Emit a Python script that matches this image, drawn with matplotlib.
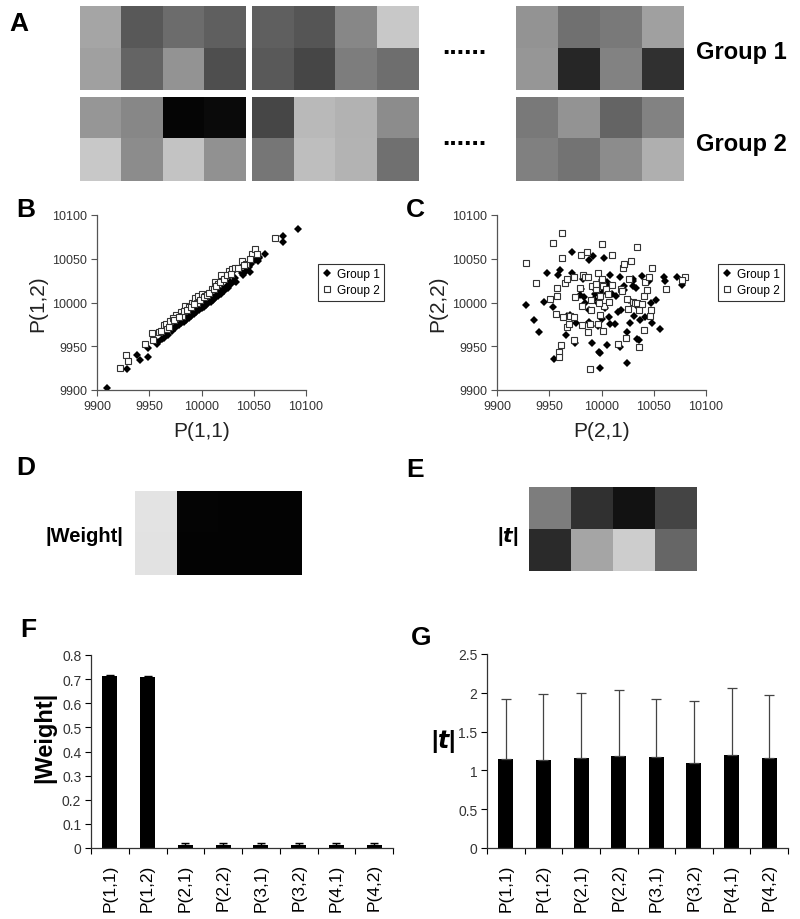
import matplotlib
matplotlib.use('Agg')
import matplotlib.pyplot as plt
from matplotlib.lines import Line2D
import numpy as np

plt.rcParams['font.family'] = ['Liberation Sans', 'DejaVu Sans']

# ---------------- data ----------------
# Panel A: gray levels (0-255) of example 2x4 matrices
a_group1_blocks = [
    [[165, 88, 108, 95], [160, 100, 148, 78]],
    [[95, 85, 135, 200], [90, 70, 125, 110]],
    [[148, 112, 122, 160], [150, 38, 130, 48]],
]
a_group2_blocks = [
    [[150, 135, 5, 10], [200, 140, 195, 145]],
    [[70, 185, 178, 140], [118, 190, 180, 112]],
    [[122, 148, 100, 130], [128, 115, 140, 175]],
]
group_names = ["Group 1", "Group 2"]

# Panel B scatter: P(1,1) vs P(1,2)
b_g1_x = [9910, 9929, 9938, 9941, 9949, 9949, 9957, 9964, 9967, 9970, 9973, 9976, 9980, 9982, 9984,
          9986, 9989, 9992, 9994, 9996, 9997, 9999, 10001, 10003, 10005, 10008, 10010, 10012, 10015,
          10018, 10021, 10024, 10027, 10031, 10032, 10039, 10043, 10045, 10047, 10051, 10055, 10061,
          10078, 10078, 10092, 9958, 9962, 9968, 9972, 9975, 9978, 9983, 9985, 9988, 9990, 9993, 9995,
          9998, 10000, 10002, 10004, 10006, 10009, 10011, 10013, 10016, 10019, 10022, 10025, 10028,
          10033, 10040, 10046, 10044, 10054, 10055]
b_g1_y = [9902, 9924, 9940, 9934, 9938, 9948, 9953, 9960, 9966, 9970, 9973, 9976, 9977, 9979, 9981,
          9983, 9986, 9988, 9990, 9992, 9993, 9995, 9996, 9998, 10000, 10002, 10004, 10006, 10009,
          10012, 10015, 10019, 10023, 10025, 10028, 10034, 10036, 10041, 10044, 10049, 10051, 10056,
          10076, 10069, 10084, 9955, 9958, 9963, 9968, 9971, 9974, 9978, 9980, 9982, 9985, 9987, 9989,
          9991, 9994, 9995, 9997, 9999, 10001, 10003, 10005, 10007, 10010, 10013, 10017, 10021,
          10024, 10031, 10035, 10040, 10048, 10052]
b_g2_x = [9922, 9928, 9930, 9946, 9953, 9954, 9959, 9964, 9966, 9970, 9976, 9980, 9981, 9984, 9988,
          9991, 9994, 9997, 10000, 10003, 10010, 10013, 10016, 10019, 10026, 10029, 10032, 10039,
          10043, 10048, 10051, 10053, 10070, 9967, 9973, 9996, 9961, 9969, 9974, 9978, 9983, 9986,
          9990, 9993, 9999, 10002, 10005, 10007, 10012, 10014, 10018, 10022, 10024, 10028, 10035,
          10041, 10046]
b_g2_y = [9925, 9940, 9933, 9953, 9965, 9957, 9966, 9974, 9976, 9979, 9986, 9989, 9985, 9996, 9995,
          10000, 10005, 10007, 10010, 10008, 10015, 10023, 10021, 10031, 10036, 10038, 10040, 10047,
          10044, 10055, 10061, 10056, 10074, 9970, 9982, 10000, 9968, 9972, 9980, 9984, 9990, 9992,
          9995, 9998, 10003, 10006, 10009, 10011, 10016, 10019, 10024, 10027, 10031, 10033, 10040,
          10043, 10050]

# Panel C scatter: P(2,1) vs P(2,2)
c_g1_x = [9928, 9935, 9940, 9948, 9945, 9954, 9955, 9958, 9960, 9966, 9967, 9970, 9972, 9972, 9974,
          9975, 9976, 9979, 9980, 9983, 9982, 9984, 9988, 9988, 9991, 9992, 9994, 9994, 9993, 9998,
          9997, 9997, 9999, 9999, 10000, 10000, 10002, 10003, 10004, 10005, 10005, 10007, 10008,
          10008, 10010, 10013, 10016, 10018, 10018, 10019, 10022, 10022, 10024, 10024, 10027, 10030,
          10030, 10030, 10031, 10034, 10036, 10037, 10039, 10042, 10045, 10047, 10048, 10052, 10056,
          10060, 10061, 10072, 10077, 9998, 9988, 10033, 10001, 10014, 10026, 10034]
c_g1_y = [9997, 9980, 9966, 10034, 10001, 9995, 9936, 10031, 10037, 9963, 9985, 9986, 10058, 10034,
          10029, 9954, 9977, 10009, 10015, 10006, 10027, 9999, 10049, 9978, 9954, 10053, 10015, 10010,
          10004, 9943, 9999, 9973, 9942, 9925, 9981, 10026, 10051, 9994, 10020, 9952, 10023, 9983,
          10032, 9975, 10010, 9975, 9989, 10029, 9949, 9991, 10014, 10019, 9966, 9931, 9977, 10025,
          10027, 10019, 9985, 9958, 9957, 9980, 10030, 9983, 10025, 9999, 9977, 10003, 9970, 10029,
          10025, 10029, 10020, 10000, 9991, 10017, 10012, 10008, 10003, 9996]
c_g2_x = [9928, 9937, 9951, 9954, 9962, 9962, 9957, 9957, 9956, 9959, 9959, 9961, 9963, 9965, 9967,
          9967, 9969, 9970, 9974, 9974, 9974, 9975, 9979, 9980, 9981, 9981, 9982, 9984, 9986, 9987,
          9987, 9989, 9989, 9990, 9990, 9991, 9995, 9995, 9997, 9997, 9999, 9999, 10000, 10000,
          10001, 10001, 10002, 10004, 10006, 10007, 10010, 10010, 10016, 10019, 10020, 10021, 10022,
          10023, 10024, 10025, 10026, 10028, 10030, 10032, 10034, 10034, 10036, 10036, 10039, 10041,
          10041, 10042, 10044, 10045, 10046, 10047, 10048, 10062, 10080, 10077, 9998]
c_g2_y = [10045, 10022, 10004, 10068, 10079, 10051, 10017, 10008, 9987, 9944, 9938, 9952, 9983,
          10022, 9972, 10027, 9975, 9985, 10029, 9957, 9983, 10006, 10017, 10054, 9996, 9974, 10032,
          10029, 10058, 9966, 10029, 9976, 9924, 10003, 9991, 10019, 10015, 10021, 9975, 10034, 10008,
          9986, 10067, 10027, 9968, 10019, 9996, 10015, 10010, 10001, 10054, 10020, 9953, 10016,
          10013, 10040, 10044, 9959, 10004, 9993, 10027, 10048, 10001, 10000, 10064, 10000, 9992,
          9949, 9998, 10007, 9969, 10023, 10014, 10029, 9985, 9992, 10039, 10016, 10029, 10026, 9999]

# Panels D-G
params = ["P(1,1)", "P(1,2)", "P(2,1)", "P(2,2)", "P(3,1)", "P(3,2)", "P(4,1)", "P(4,2)"]
weight_mean = [0.711, 0.707, 0.014, 0.011, 0.012, 0.012, 0.012, 0.012]
weight_err = [0.005, 0.005, 0.008, 0.010, 0.009, 0.009, 0.009, 0.009]
t_mean = [1.15, 1.14, 1.16, 1.18, 1.17, 1.10, 1.20, 1.16]
t_err = [0.77, 0.85, 0.84, 0.85, 0.75, 0.79, 0.86, 0.81]
e_tmap = [[125, 48, 18, 68], [42, 165, 205, 102]]

# ---------------- layout helpers ----------------
W, H = 800, 920
fig = plt.figure(figsize=(8, 9.2), dpi=100)


def ax_px(x0, y0, x1, y1):
    return fig.add_axes([x0 / W, 1 - y1 / H, (x1 - x0) / W, (y1 - y0) / H])


def ftext(x, y, s, **kw):
    fig.text(x / W, 1 - y / H, s, **kw)


def panel_label(x, y, s):
    ftext(x, y, s, fontsize=19, fontweight='bold', ha='left', va='top')


# ---------------- Panel A ----------------
panel_label(9, 12, "A")
block_x = [(80, 246), (252, 419), (516, 684)]
row_y = [(7, 91), (98, 182)]
for gi, blocks in enumerate([a_group1_blocks, a_group2_blocks]):
    y0, y1 = row_y[gi]
    for bi, blk in enumerate(blocks):
        x0, x1 = block_x[bi]
        ax = ax_px(x0, y0, x1, y1)
        ax.imshow(np.array(blk), cmap='gray', vmin=0, vmax=255, aspect='auto',
                  interpolation='nearest')
        ax.axis('off')
    ym = (y0 + y1) / 2
    ftext(464, ym - 2, "......", fontsize=19, fontweight='bold', ha='center', va='center')
    ftext(696, ym + 4, group_names[gi], fontsize=17, fontweight='bold', ha='left', va='center')


# ---------------- Panels B, C ----------------
def scatter_panel(box, g1x, g1y, g2x, g2y, xlabel, ylabel, leg_xy, lab_x):
    ax = ax_px(*box)
    ax.plot(g1x, g1y, linestyle='none', marker='D', markersize=4.2, color='black',
            markeredgewidth=0)
    ax.plot(g2x, g2y, linestyle='none', marker='s', markersize=5, markerfacecolor='white',
            markeredgecolor='#333333', markeredgewidth=0.8)
    ax.set_xlim(9900, 10100)
    ax.set_ylim(9900, 10100)
    ticks = [9900, 9950, 10000, 10050, 10100]
    ax.set_xticks(ticks)
    ax.set_yticks(ticks)
    for s in ['top', 'right']:
        ax.spines[s].set_visible(False)
    for s in ['left', 'bottom']:
        ax.spines[s].set_color('#555555')
        ax.spines[s].set_linewidth(0.9)
    ax.tick_params(direction='out', length=4, width=0.8, color='#555555',
                   labelsize=9, labelcolor='#333333', pad=3)
    ax.patch.set_alpha(0)
    x0, y0, x1, y1 = box
    ftext((x0 + x1) / 2, 432, xlabel, fontsize=15, ha='center', va='center', color='#222222')
    ftext(lab_x, (y0 + y1) / 2, ylabel, fontsize=15, ha='center', va='center',
          rotation=90, color='#222222')
    handles = [Line2D([], [], linestyle='none', marker='D', markersize=4.2, color='black',
                      markeredgewidth=0),
               Line2D([], [], linestyle='none', marker='s', markersize=5,
                      markerfacecolor='white', markeredgecolor='#333333',
                      markeredgewidth=0.8)]
    leg = ax.legend(handles, group_names, loc='upper left',
                    bbox_to_anchor=(leg_xy[0] / W, 1 - leg_xy[1] / H),
                    bbox_transform=fig.transFigure, frameon=True, fancybox=False,
                    fontsize=8.6, handlelength=0.8, handletextpad=0.4,
                    borderpad=0.35, labelspacing=0.35, borderaxespad=0)
    leg.get_frame().set_edgecolor('black')
    leg.get_frame().set_linewidth(0.8)
    return ax


panel_label(16, 198, "B")
scatter_panel((97, 216, 306, 391), b_g1_x, b_g1_y, b_g2_x, b_g2_y,
              "P(1,1)", "P(1,2)", (318, 265), 38)
panel_label(406, 198, "C")
scatter_panel((497, 216, 706, 391), c_g1_x, c_g1_y, c_g2_x, c_g2_y,
              "P(2,1)", "P(2,2)", (718, 265), 438)

# ---------------- Panel D ----------------
panel_label(16, 456, "D")
axd = ax_px(135, 492, 302, 576)
dmap = np.array([weight_mean[0::2], weight_mean[1::2]])
axd.imshow(dmap, cmap='gray', vmin=0, vmax=0.8, aspect='auto', interpolation='nearest')
axd.axis('off')
ftext(123, 537, "|Weight|", fontsize=14.5, fontweight='bold', ha='right', va='center')

# ---------------- Panel E ----------------
panel_label(406, 458, "E")
axe = ax_px(529, 488, 697, 572)
axe.imshow(np.array(e_tmap), cmap='gray', vmin=0, vmax=255, aspect='auto',
           interpolation='nearest')
axe.axis('off')
ftext(518, 537, r"|$\boldsymbol{t}$|", fontsize=14.5, fontweight='bold', ha='right', va='center')


# ---------------- Panels F, G ----------------
def bar_panel(box, means, errs, ymax, yticks, ytl, ecolor, elw, cap):
    ax = ax_px(*box)
    xs = np.arange(len(params))
    ax.bar(xs, means, width=0.4, color='black', zorder=2)
    ax.errorbar(xs, means, yerr=[np.zeros(len(errs)), errs], fmt='none', ecolor=ecolor,
                elinewidth=elw, capsize=cap, capthick=elw, zorder=3)
    ax.set_xlim(-0.5, len(params) - 0.5)
    ax.set_ylim(0, ymax)
    ax.set_yticks(yticks)
    ax.set_yticklabels(ytl)
    ax.set_xticks(xs)
    ax.set_xticklabels(params, rotation=90, fontsize=12.5)
    ax.set_xticks(np.arange(-0.5, len(params)), minor=True)
    ax.tick_params(axis='x', which='major', length=0, pad=11)
    ax.tick_params(axis='x', which='minor', direction='out', length=4, width=0.8)
    ax.tick_params(axis='y', direction='out', length=4, width=0.8, labelsize=10,
                   labelcolor='#333333', pad=3)
    for s in ['top', 'right']:
        ax.spines[s].set_visible(False)
    for s in ['left', 'bottom']:
        ax.spines[s].set_linewidth(0.9)
        ax.spines[s].set_color('#333333')
    ax.patch.set_alpha(0)
    return ax


panel_label(20, 618, "F")
bar_panel((91, 656, 393, 849), weight_mean, weight_err, 0.8,
          [0, 0.1, 0.2, 0.3, 0.4, 0.5, 0.6, 0.7, 0.8],
          ["0", "0.1", "0.2", "0.3", "0.4", "0.5", "0.6", "0.7", "0.8"], 'black', 1.0, 3)
ftext(45, 737, "|Weight|", fontsize=17, fontweight='bold', ha='center', va='center',
      rotation=90)

panel_label(411, 626, "G")
bar_panel((487, 655, 788, 849), t_mean, t_err, 2.5,
          [0, 0.5, 1, 1.5, 2, 2.5], ["0", "0.5", "1", "1.5", "2", "2.5"], '#444444', 0.9, 3.5)
ftext(443, 742, r"|$\boldsymbol{t}$|", fontsize=17, fontweight='bold', ha='center',
      va='center')

fig.savefig("out.png", dpi=100)
